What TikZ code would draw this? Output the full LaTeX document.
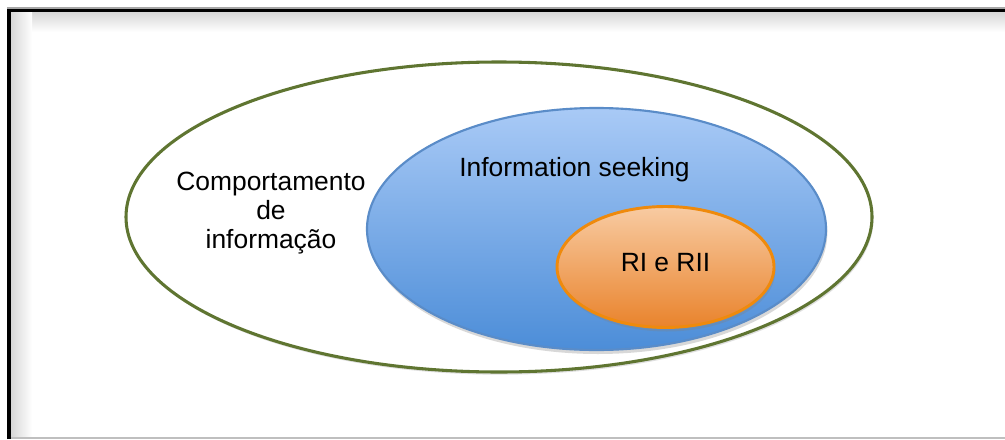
\documentclass[tikz,border=0pt]{standalone}
\usepackage{fontspec}
\setmainfont{Liberation Sans}
\usetikzlibrary{shapes.geometric,shadows,fadings}
\definecolor{olivegreen}{HTML}{5F7531}
\definecolor{blueedge}{HTML}{5A8CC8}
\definecolor{bluetop}{HTML}{A9CAF6}
\definecolor{bluebot}{HTML}{4C8DD8}
\definecolor{orangeedge}{HTML}{EF8A0C}
\definecolor{orangetop}{HTML}{F8CBA2}
\definecolor{orangebot}{HTML}{E9832C}
\tikzset{
  oval/.style={ellipse, inner sep=0pt},
  lbl/.style={font=\fontsize{19.8pt}{22pt}\selectfont, text=black, align=center, inner sep=0pt},
}
\begin{document}
\begin{tikzpicture}[x=0.75pt,y=-0.75pt]
\useasboundingbox (0,0) rectangle (1005,439);
\fill[white] (0,0) rectangle (1005,439);
% frame inner shadow
\shade[top color=black!16, bottom color=white] (11,12) rectangle (1005,32);
\shade[left color=black!16, right color=white] (11,12) rectangle (32,437);
\fill[white] (32,32) rectangle (1005,437);
\draw[black!35, line width=0.8pt] (7,8) -- (1005,8);
\draw[black!25, line width=1.2pt] (9,438) -- (1005,438);
\draw[black, line width=2.6pt] (9,439) -- (9,10.5) -- (1005,10.5);
% outer ellipse
\node[oval, draw=olivegreen, line width=2.3pt, fill=white,
      drop shadow={opacity=0.25, shadow xshift=1pt, shadow yshift=-2pt},
      minimum width=746*0.75pt, minimum height=310*0.75pt] (outer) at (499,217) {};
% blue ellipse
\node[oval, draw=blueedge, line width=1.6pt, top color=bluetop, bottom color=bluebot,
      drop shadow={opacity=0.3, shadow xshift=1pt, shadow yshift=-3pt},
      minimum width=459*0.75pt, minimum height=242*0.75pt] (seek) at (596.5,229) {};
% orange ellipse
\node[oval, draw=orangeedge, line width=2.2pt, top color=orangetop, bottom color=orangebot,
      drop shadow={opacity=0.3, shadow xshift=1pt, shadow yshift=-3pt},
      minimum width=217*0.75pt, minimum height=121*0.75pt] (ri) at (665.5,267) {};
% labels
\node[lbl] (tcomp) at (271,213) {Comportamento\\de\\informação};
\node[lbl] (tseek) at (574.5,170) {Information seeking};
\node[lbl] (tri) at (665.5,263) {RI e RII};
\end{tikzpicture}
\end{document}
